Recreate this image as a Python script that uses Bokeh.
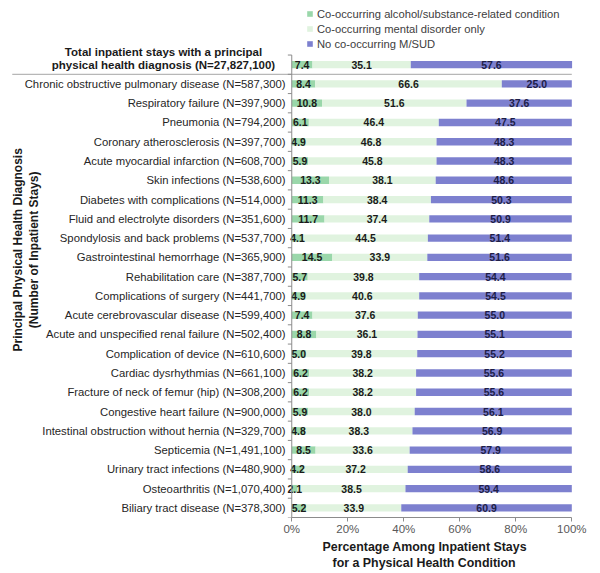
from bokeh.plotting import figure
from bokeh.models import ColumnDataSource, Legend, LegendItem, Title, FixedTicker, CustomJSTickFormatter
from bokeh.core.properties import value
from bokeh.embed import file_html
from bokeh.resources import INLINE
import math

categories = [
    "Chronic obstructive pulmonary disease (N=587,300)",
    "Respiratory failure (N=397,900)",
    "Pneumonia (N=794,200)",
    "Coronary atherosclerosis (N=397,700)",
    "Acute myocardial infarction (N=608,700)",
    "Skin infections (N=538,600)",
    "Diabetes with complications (N=514,000)",
    "Fluid and electrolyte disorders (N=351,600)",
    "Spondylosis and back problems (N=537,700)",
    "Gastrointestinal hemorrhage (N=365,900)",
    "Rehabilitation care (N=387,700)",
    "Complications of surgery (N=441,700)",
    "Acute cerebrovascular disease (N=599,400)",
    "Acute and unspecified renal failure (N=502,400)",
    "Complication of device (N=610,600)",
    "Cardiac dysrhythmias (N=661,100)",
    "Fracture of neck of femur (hip) (N=308,200)",
    "Congestive heart failure (N=900,000)",
    "Intestinal obstruction without hernia (N=329,700)",
    "Septicemia (N=1,491,100)",
    "Urinary tract infections (N=480,900)",
    "Osteoarthritis (N=1,070,400)",
    "Biliary tract disease (N=378,300)",
]
alcohol = [8.4, 10.8, 6.1, 4.9, 5.9, 13.3, 11.3, 11.7, 4.1, 14.5, 5.7, 4.9, 7.4, 8.8, 5.0, 6.2, 6.2, 5.9, 4.8, 8.5, 4.2, 2.1, 5.2]
mental = [66.6, 51.6, 46.4, 46.8, 45.8, 38.1, 38.4, 37.4, 44.5, 33.9, 39.8, 40.6, 37.6, 36.1, 39.8, 38.2, 38.2, 38.0, 38.3, 33.6, 37.2, 38.5, 33.9]
none_msud = [25.0, 37.6, 47.5, 48.3, 48.3, 48.6, 50.3, 50.9, 51.4, 51.6, 54.4, 54.5, 55.0, 55.1, 55.2, 55.6, 55.6, 56.1, 56.9, 57.9, 58.6, 59.4, 60.9]

total_label = ["Total inpatient stays with a principal", "physical health diagnosis (N=27,827,100)"]
total_values = [7.4, 35.1, 57.6]

series_names = ["Co-occurring alcohol/substance-related condition",
                "Co-occurring mental disorder only",
                "No co-occurring M/SUD"]
colors = ["#9ad7aa", "#e0f3df", "#7d80cf"]
x_ticks = [0, 20, 40, 60, 80, 100]
x_title = ["Percentage Among Inpatient Stays", "for a Physical Health Condition"]
y_title = ["Principal Physical Health Diagnosis", "(Number of Inpatient Stays)"]

n = len(categories)
ys = [n - i for i in range(n)]  # COPD at top (n) ... Biliary at 1
y_total = n + 1

all_y = ys + [y_total]
a_vals = alcohol + [total_values[0]]
m_vals = mental + [total_values[1]]
o_vals = none_msud + [total_values[2]]

a_left = [0.0] * len(all_y)
a_right = a_vals[:]
m_left = a_right[:]
m_right = [a + m for a, m in zip(a_vals, m_vals)]
o_left = m_right[:]
o_right = [a + m + o for a, m, o in zip(a_vals, m_vals, o_vals)]

src = ColumnDataSource(dict(
    y=all_y,
    a_left=a_left, a_right=a_right, a_mid=[(l + r) / 2 for l, r in zip(a_left, a_right)], a_txt=["%.1f" % v for v in a_vals],
    m_left=m_left, m_right=m_right, m_mid=[(l + r) / 2 for l, r in zip(m_left, m_right)], m_txt=["%.1f" % v for v in m_vals],
    o_left=o_left, o_right=o_right, o_mid=[(l + r) / 2 for l, r in zip(o_left, o_right)], o_txt=["%.1f" % v for v in o_vals],
))
cat_src = ColumnDataSource(dict(y=ys, label=categories))

FONT = value("Liberation Sans")

p = figure(width=590, height=571, output_backend="svg", toolbar_location=None,
           x_range=(-104.0, 100.96), y_range=(0.5, 27.33), y_axis_location=None,
           min_border_left=0, min_border_right=16, min_border_top=0, min_border_bottom=54)
p.outline_line_color = None
p.xgrid.visible = False
p.ygrid.visible = False
p.background_fill_color = "white"

h = 0.38
r_a = p.hbar(y="y", left="a_left", right="a_right", height=h, source=src, fill_color=colors[0], line_color=None)
r_m = p.hbar(y="y", left="m_left", right="m_right", height=h, source=src, fill_color=colors[1], line_color=None)
r_o = p.hbar(y="y", left="o_left", right="o_right", height=h, source=src, fill_color=colors[2], line_color=None)

vfont = dict(text_font=FONT, text_font_size="10.5px", text_font_style="bold",
             text_align="center", text_baseline="middle")
p.text(x="a_mid", y="y", text="a_txt", source=src, text_color="#1a1a1a", **vfont)
p.text(x="m_mid", y="y", text="m_txt", source=src, text_color="#1a1a1a", **vfont)
p.text(x="o_mid", y="y", text="o_txt", source=src, text_color="#1e1e48", **vfont)

# category labels
p.text(x=-2.2, y="y", text="label", source=cat_src, text_font=FONT, text_font_size="11.3px",
       text_color="#262626", text_align="right", text_baseline="middle")

# total label (two lines, bold)
p.text(x=[-45.8, -45.8], y=[y_total + 0.68, y_total], text=total_label, text_font=FONT,
       text_font_size="11.5px", text_font_style="bold", text_color="#1a1a1a",
       text_align="center", text_baseline="middle")

# separator line
p.segment(x0=[-99.8], y0=[n + 0.5], x1=[100], y1=[n + 0.5], line_color="#a6a6a6", line_width=1)

# left axis line with category ticks
p.segment(x0=[0], y0=[0.5], x1=[0], y1=[y_total + 0.5], line_color="#8c8c8c", line_width=1)
tick_y = [k + 0.5 for k in range(0, y_total + 1)]
p.segment(x0=[-1.4] * len(tick_y), y0=tick_y, x1=[0] * len(tick_y), y1=tick_y, line_color="#8c8c8c", line_width=1)

# y title (rotated)
p.text(x=[-97.6, -92.2], y=[14.39, 14.39], text=y_title, angle=math.pi / 2, text_font=FONT,
       text_font_size="12px", text_font_style="bold", text_color="#1a1a1a",
       text_align="center", text_baseline="middle")

# bottom axis
ax = p.xaxis[0]
ax.bounds = (0, 100)
ax.ticker = FixedTicker(ticks=x_ticks)
ax.formatter = CustomJSTickFormatter(code="return tick + '%';")
ax.axis_line_color = "#8c8c8c"
ax.major_tick_line_color = "#8c8c8c"
ax.major_tick_in = 0
ax.major_tick_out = 4
ax.minor_tick_line_color = None
ax.major_label_text_font = "Liberation Sans"
ax.major_label_text_font_size = "11.5px"
ax.major_label_text_color = "#595959"
ax.major_label_standoff = 1
ax.major_label_text_line_height = 0.8

# x title as two titles below
for txt, off in zip(x_title, [322, 332]):
    p.add_layout(Title(text=txt, align="left", offset=off, standoff=0, text_line_height=0.95,
                       text_font="Liberation Sans", text_font_size="12.4px",
                       text_font_style="bold", text_color="#1a1a1a"), "below")

legend = Legend(items=[LegendItem(label=series_names[0], renderers=[r_a]),
                       LegendItem(label=series_names[1], renderers=[r_m]),
                       LegendItem(label=series_names[2], renderers=[r_o])],
                location=(306, 466), orientation="vertical")
legend.background_fill_alpha = 0
legend.border_line_alpha = 0
legend.padding = 0
legend.margin = 0
legend.spacing = 0
legend.label_height = 15
legend.glyph_height = 7
legend.glyph_width = 7
legend.label_standoff = 4
legend.label_text_font = "Liberation Sans"
legend.label_text_font_size = "11.2px"
legend.label_text_color = "#404040"
p.add_layout(legend)

open("out.html", "w").write(file_html(p, INLINE))
